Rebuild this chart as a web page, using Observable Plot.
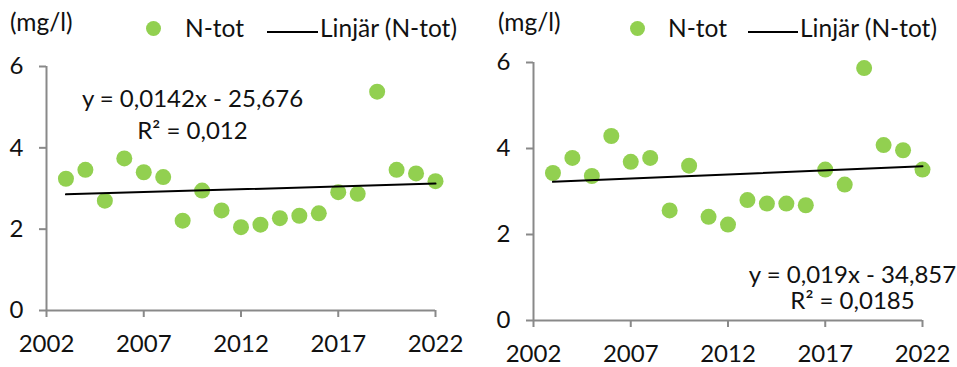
<!DOCTYPE html>
<html>
<head>
<meta charset="utf-8">
<script src="https://cdn.jsdelivr.net/npm/d3@7"></script>
<script src="https://cdn.jsdelivr.net/npm/@observablehq/plot@0.6"></script>
<style>
  html, body { margin: 0; padding: 0; background: #fff; }
  #figure { position: relative; width: 957px; height: 367px; overflow: hidden; font-family: Lato, "Open Sans", sans-serif; color: #111; }
  .panel { position: absolute; top: 0; height: 367px; }
  .panel svg { position: absolute; top: 45px; left: 0; }
  .lg { position: absolute; font-size: 24.5px; line-height: 1; white-space: nowrap; }
  .lg-dot { position: absolute; width: 15px; height: 15px; border-radius: 50%; }
  .lg-line { position: absolute; height: 0; border-top: 2px solid #000; }
</style>
</head>
<body>
<div id="figure"></div>
<script>
// Total nitrogen (mg/l), yearly values for two sampling stations
const years = [2003, 2004, 2005, 2006, 2007, 2008, 2009, 2010, 2011, 2012,
               2013, 2014, 2015, 2016, 2017, 2018, 2019, 2020, 2021, 2022];
const ntotLeft  = [3.24, 3.46, 2.70, 3.74, 3.40, 3.28, 2.21, 2.95, 2.46, 2.05,
                   2.11, 2.27, 2.33, 2.39, 2.91, 2.87, 5.38, 3.46, 3.37, 3.18];
const ntotRight = [3.43, 3.78, 3.36, 4.29, 3.69, 3.78, 2.56, 3.60, 2.41, 2.23,
                   2.80, 2.72, 2.72, 2.68, 3.51, 3.16, 5.87, 4.08, 3.96, 3.51];

const xTicks = [2002, 2007, 2012, 2017, 2022];
const yTicks = [0, 2, 4, 6];
const unitLabel = "(mg/l)";
const seriesName = "N-tot";
const trendName = "Linjär (N-tot)";
const eqLeft  = ["y = 0,0142x - 25,676", "R² = 0,012"];
const eqRight = ["y = 0,019x - 34,857", "R² = 0,0185"];

const green = "#92d050";
const axisGray = "#898989";
const textColor = "#111";
const fontSize = 24;

function panel({left, width, values, eq, m, padX, eqPos, legendPos}) {
  const data = years.map((year, i) => ({year, value: values[i]}));
  const wrap = document.createElement("div");
  wrap.className = "panel";
  wrap.style.left = left + "px";
  wrap.style.width = width + "px";

  // legend row: unit, series dot, trend line
  const unit = document.createElement("span");
  unit.className = "lg"; unit.textContent = unitLabel;
  unit.style.left = legendPos.unit + "px"; unit.style.top = "10px";
  const dot = document.createElement("span");
  dot.className = "lg-dot"; dot.style.background = green;
  dot.style.left = (legendPos.dot - 7.5) + "px"; dot.style.top = "20.5px";
  const name = document.createElement("span");
  name.className = "lg"; name.textContent = seriesName;
  name.style.left = legendPos.name + "px"; name.style.top = "16px";
  const line = document.createElement("span");
  line.className = "lg-line";
  line.style.left = legendPos.line[0] + "px"; line.style.width = (legendPos.line[1] - legendPos.line[0]) + "px";
  line.style.top = "31px";
  const trend = document.createElement("span");
  trend.className = "lg"; trend.textContent = trendName;
  trend.style.left = legendPos.trend + "px"; trend.style.top = "16px";
  wrap.append(unit, dot, name, line, trend);

  const chart = Plot.plot({
    width,
    height: 322,
    marginLeft: m.left,
    marginRight: m.right,
    marginTop: m.top,
    marginBottom: m.bottom,
    style: {fontFamily: "Lato, 'Open Sans', sans-serif", fontSize: fontSize + "px", color: textColor, background: "transparent", overflow: "visible"},
    x: {domain: [xTicks[0], xTicks[xTicks.length - 1]]},
    y: {domain: [yTicks[0], yTicks[yTicks.length - 1]]},
    marks: [
      Plot.ruleY([yTicks[0]], {stroke: axisGray, strokeWidth: 2}),
      Plot.ruleX([xTicks[0]], {stroke: axisGray, strokeWidth: 2}),
      Plot.axisX({ticks: xTicks, tickFormat: d => String(d), tickSize: 7, tickPadding: padX, stroke: axisGray, strokeWidth: 2, fill: textColor, fontSize, label: null}),
      Plot.axisY({ticks: yTicks, tickFormat: d => String(d), tickSize: 7, tickPadding: 16, stroke: axisGray, strokeWidth: 2, fill: textColor, fontSize, label: null}),
      Plot.dot(data, {x: "year", y: "value", r: 8, fill: green}),
      Plot.linearRegressionY(data, {x: "year", y: "value", stroke: "#000", strokeWidth: 2, ci: 0}),
      Plot.text([eq.join("\n")], {frameAnchor: "top-left", dx: eqPos.dx, dy: eqPos.dy, textAnchor: "middle", lineAnchor: "middle", lineHeight: eqPos.lh, fill: textColor, fontSize})
    ]
  });
  wrap.append(chart);
  return wrap;
}

const fig = document.getElementById("figure");
fig.append(panel({
  left: 0, width: 478, values: ntotLeft, eq: eqLeft,
  m: {left: 46, right: 43, top: 21, bottom: 57}, padX: 17,
  eqPos: {dx: 146, dy: 46, lh: 1.33},
  legendPos: {unit: 10, dot: 153, name: 185, line: [267, 318], trend: 320}
}));
fig.append(panel({
  left: 478, width: 479, values: ntotRight, eq: eqRight,
  m: {left: 55, right: 35, top: 17, bottom: 47}, padX: 17,
  eqPos: {dx: 319, dy: 225, lh: 1.1},
  legendPos: {unit: 20, dot: 159, name: 190, line: [270, 320], trend: 322}
}));
</script>
</body>
</html>
